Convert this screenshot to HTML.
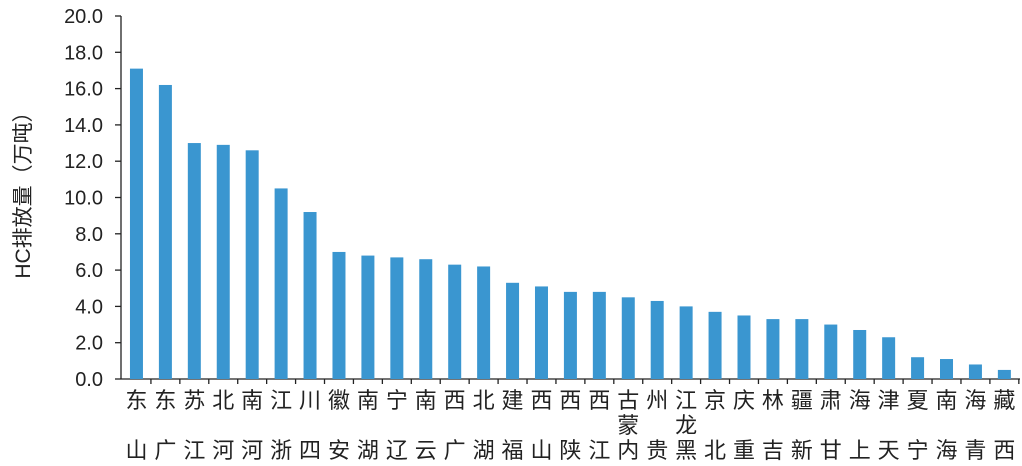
<!DOCTYPE html>
<html><head><meta charset="utf-8"><style>
html,body{margin:0;padding:0;background:#fff;}
svg{display:block;font-family:"Liberation Sans","Noto Sans CJK SC",sans-serif;}
</style></head><body>
<svg id="s" width="1022" height="466" xmlns="http://www.w3.org/2000/svg"></svg>
<script>
const s=document.getElementById('s');
const vals=[17.1,16.2,13.0,12.9,12.6,10.5,9.2,7.0,6.8,6.7,6.6,6.3,6.2,5.3,5.1,4.8,4.8,4.5,4.3,4.0,3.7,3.5,3.3,3.3,3.0,2.7,2.3,1.2,1.1,0.8,0.5];
const names=["山东","广东","江苏","河北","河南","浙江","四川","安徽","湖南","辽宁","云南","广西","湖北","福建","山西","陕西","江西","内蒙古","贵州","黑龙江","北京","重庆","吉林","新疆","甘肃","上海","天津","宁夏","海南","青海","西藏"];
const y0=379,k=18.15,x0=122,step=28.93;
let h='';
h+=`<line x1="121" y1="16" x2="121" y2="${y0}" stroke="#222" stroke-width="1.3"/>`;
h+=`<line x1="121" y1="${y0}" x2="1020" y2="${y0}" stroke="#222" stroke-width="1.3"/>`;
for(let i=0;i<=10;i++){const y=y0-i*2*k;
h+=`<line x1="115" y1="${y}" x2="121" y2="${y}" stroke="#222" stroke-width="1.3"/>`;
h+=`<text x="103" y="${y+7}" font-size="20" text-anchor="end" fill="#222">${(i*2).toFixed(1)}</text>`;}
vals.forEach((v,i)=>{const cx=x0+step*(i+0.5);
h+=`<rect x="${cx-6.5}" y="${y0-v*k}" width="13" height="${v*k}" fill="#3a96d0"/>`;
h+=`<line x1="${x0+step*(i+1)}" y1="${y0}" x2="${x0+step*(i+1)}" y2="${y0+5}" stroke="#222" stroke-width="1.3"/>`;
const n=names[i];const ys=n.length==3?[458,433,408]:[458,408];
for(let j=0;j<n.length;j++)h+=`<text x="${cx}" y="${ys[j]}" font-size="22" text-anchor="middle" fill="#222">${n[j]}</text>`;
});
h+=`<text transform="translate(30,190) rotate(-90)" font-size="21" text-anchor="middle" fill="#222">HC排放量（万吨）</text>`;
s.innerHTML=h;
</script>
</body></html>
